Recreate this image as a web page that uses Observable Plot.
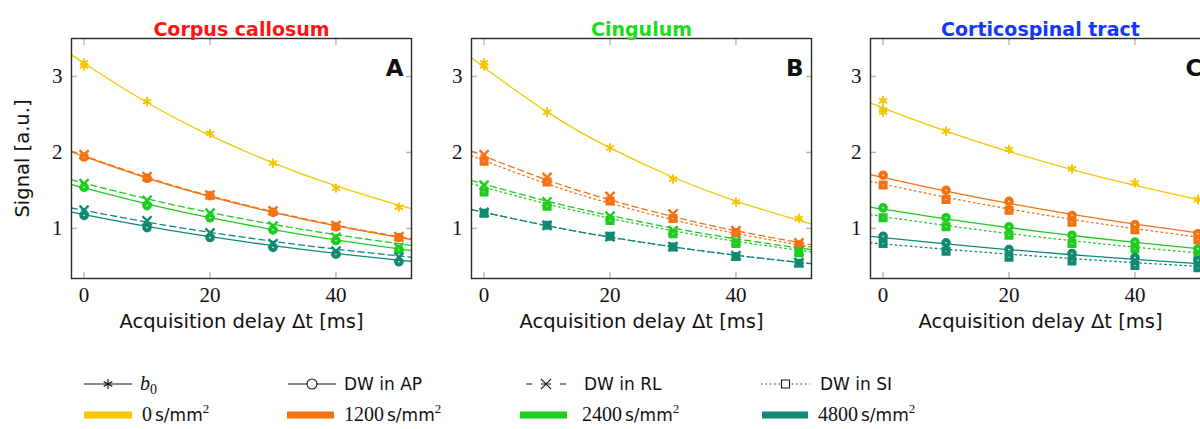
<!DOCTYPE html>
<html><head><meta charset="utf-8">
<script src="https://cdn.jsdelivr.net/npm/d3@7"></script>
<script src="https://cdn.jsdelivr.net/npm/@observablehq/plot@0.6"></script>
<style>
body{margin:0;background:#fff;}
#wrap{position:relative;width:1200px;height:429px;overflow:hidden;background:#fff;}
.panel{position:absolute;top:0;}
#legend{position:absolute;left:0;top:360px;}
</style></head><body><div id="wrap"></div>
<script>
// ---------- data ----------
const times = [0, 10, 20, 30, 40, 50];
const fitTimes = [-2, 0, 10, 20, 30, 40, 50, 52];
const xTicks = [0, 20, 40];
const yTicks = [1, 2, 3];
const bValues = ["0", "1200", "2400", "4800"];
const bColors = ["#f5c600", "#f57214", "#1fcc1f", "#118a74"];
const panelKeys = ["A", "B", "C"];
const panelTitles = ["Corpus callosum", "Cingulum", "Corticospinal tract"];
const titleColors = ["#ff1414", "#14e014", "#1238ff"];

// Panel A (Corpus callosum): b0, AP, RL
const A_b0 = [3.14, 2.67, 2.25, 1.86, 1.53, 1.28];
const A_b0_t0 = [3.18];
const A_AP_1200 = [1.94, 1.66, 1.43, 1.21, 1.02, 0.88];
const A_RL_1200 = [1.97, 1.68, 1.44, 1.23, 1.04, 0.89];
const A_AP_2400 = [1.54, 1.30, 1.14, 0.98, 0.84, 0.72];
const A_RL_2400 = [1.59, 1.37, 1.20, 1.03, 0.88, 0.75];
const A_AP_4800 = [1.17, 1.01, 0.88, 0.75, 0.66, 0.56];
const A_RL_4800 = [1.24, 1.10, 0.94, 0.80, 0.70, 0.62];
const A_fit_b0 = [3.29, 3.175, 2.658, 2.225, 1.862, 1.559, 1.305, 1.26];
const A_fit_AP_1200 = [2.01, 1.948, 1.662, 1.419, 1.211, 1.034, 0.882, 0.855];
const A_fit_RL_1200 = [2.02, 1.958, 1.672, 1.428, 1.22, 1.042, 0.891, 0.865];
const A_fit_AP_2400 = [1.58, 1.534, 1.323, 1.141, 0.984, 0.848, 0.731, 0.71];
const A_fit_RL_2400 = [1.64, 1.595, 1.389, 1.209, 1.053, 0.917, 0.798, 0.776];
const A_fit_AP_4800 = [1.215, 1.181, 1.025, 0.890, 0.773, 0.671, 0.582, 0.566];
const A_fit_RL_4800 = [1.27, 1.237, 1.083, 0.948, 0.830, 0.727, 0.637, 0.62];

// Panel B (Cingulum): b0, RL, SI
const B_b0 = [3.14, 2.53, 2.06, 1.65, 1.35, 1.13];
const B_b0_t0 = [3.18];
const B_RL_1200 = [1.97, 1.67, 1.42, 1.19, 0.97, 0.81];
const B_SI_1200 = [1.885, 1.61, 1.36, 1.13, 0.94, 0.785];
const B_RL_2400 = [1.57, 1.35, 1.16, 0.97, 0.83, 0.70];
const B_SI_2400 = [1.48, 1.29, 1.105, 0.93, 0.80, 0.68];
const B_RL_4800 = [1.21, 1.04, 0.89, 0.76, 0.64, 0.55];
const B_SI_4800 = [1.20, 1.04, 0.895, 0.755, 0.63, 0.54];
const B_fit_b0 = [3.25, 3.118, 2.534, 2.059, 1.673, 1.360, 1.105, 1.06];
const B_fit_RL_1200 = [2.02, 1.951, 1.637, 1.375, 1.154, 0.969, 0.813, 0.785];
const B_fit_SI_1200 = [1.96, 1.892, 1.586, 1.329, 1.114, 0.933, 0.782, 0.755];
const B_fit_RL_2400 = [1.63, 1.582, 1.359, 1.169, 1.004, 0.863, 0.742, 0.72];
const B_fit_SI_2400 = [1.59, 1.542, 1.321, 1.132, 0.969, 0.830, 0.712, 0.69];
const B_fit_RL_4800 = [1.25, 1.211, 1.035, 0.885, 0.756, 0.646, 0.552, 0.535];
const B_fit_SI_4800 = [1.25, 1.211, 1.035, 0.885, 0.756, 0.646, 0.552, 0.535];

// Panel C (Corticospinal tract): b0, AP, SI
const C_b0 = [2.56, 2.28, 2.04, 1.785, 1.60, 1.38];
const C_b0_t0 = [2.68, 2.53];
const C_AP_1200 = [1.70, 1.50, 1.355, 1.17, 1.05, 0.93];
const C_SI_1200 = [1.57, 1.38, 1.24, 1.08, 0.98, 0.85];
const C_AP_2400 = [1.27, 1.14, 1.02, 0.91, 0.82, 0.73];
const C_SI_2400 = [1.14, 1.02, 0.91, 0.80, 0.73, 0.645];
const C_AP_4800 = [0.895, 0.81, 0.72, 0.67, 0.615, 0.58];
const C_SI_4800 = [0.80, 0.70, 0.62, 0.57, 0.51, 0.48];
const C_fit_b0 = [2.65, 2.584, 2.28, 2.011, 1.774, 1.565, 1.38, 1.346];
const C_fit_AP_1200 = [1.71, 1.671, 1.490, 1.329, 1.185, 1.057, 0.942, 0.921];
const C_fit_SI_1200 = [1.62, 1.583, 1.41, 1.256, 1.118, 0.996, 0.887, 0.867];
const C_fit_AP_2400 = [1.28, 1.253, 1.125, 1.010, 0.907, 0.815, 0.732, 0.716];
const C_fit_SI_2400 = [1.18, 1.155, 1.038, 0.932, 0.838, 0.753, 0.676, 0.662];
const C_fit_AP_4800 = [0.895, 0.878, 0.795, 0.7205, 0.653, 0.592, 0.536, 0.526];
const C_fit_SI_4800 = [0.81, 0.795, 0.725, 0.661, 0.6025, 0.549, 0.501, 0.492];

// ---------- assembly ----------
const panelSeries = {
  A: {b0: [A_b0, A_fit_b0, A_b0_t0], dirs: ["AP", "RL"],
      AP: [[A_AP_1200, A_fit_AP_1200], [A_AP_2400, A_fit_AP_2400], [A_AP_4800, A_fit_AP_4800]],
      RL: [[A_RL_1200, A_fit_RL_1200], [A_RL_2400, A_fit_RL_2400], [A_RL_4800, A_fit_RL_4800]]},
  B: {b0: [B_b0, B_fit_b0, B_b0_t0], dirs: ["SI", "RL"],
      RL: [[B_RL_1200, B_fit_RL_1200], [B_RL_2400, B_fit_RL_2400], [B_RL_4800, B_fit_RL_4800]],
      SI: [[B_SI_1200, B_fit_SI_1200], [B_SI_2400, B_fit_SI_2400], [B_SI_4800, B_fit_SI_4800]]},
  C: {b0: [C_b0, C_fit_b0, C_b0_t0], dirs: ["SI", "AP"],
      AP: [[C_AP_1200, C_fit_AP_1200], [C_AP_2400, C_fit_AP_2400], [C_AP_4800, C_fit_AP_4800]],
      SI: [[C_SI_1200, C_fit_SI_1200], [C_SI_2400, C_fit_SI_2400], [C_SI_4800, C_fit_SI_4800]]}
};
const dash = {b0: null, AP: null, RL: "6,4", SI: "1.6,3.4"};
const symbolOf = {b0: "asterisk", AP: "circle", RL: "times", SI: "square"};

const SERIF = "'Liberation Serif', 'DejaVu Serif', serif";
const SANS = "'DejaVu Sans', sans-serif";

const wrap = document.getElementById("wrap");

panelKeys.forEach((key, i) => {
  const ps = panelSeries[key];
  const lineMarks = [], dotMarks = [];
  const fitRows = (vals) => vals.map((v, j) => ({t: fitTimes[j], v}));
  const ptRows = (vals) => vals.map((v, j) => ({t: times[j], v}));
  lineMarks.push(Plot.line(fitRows(ps.b0[1]), {x: "t", y: "v", stroke: bColors[0], strokeWidth: 1.3, curve: "natural", clip: true}));
  const b0pts = ptRows(ps.b0[0]).concat(ps.b0[2].map(v => ({t: times[0], v})));
  dotMarks.push(Plot.dot(b0pts, {x: "t", y: "v", symbol: "asterisk", r: 4.4, stroke: bColors[0], strokeWidth: 1.9}));
  for (const dir of ps.dirs) {
    ps[dir].forEach(([pts, fit], bi) => {
      lineMarks.push(Plot.line(fitRows(fit), {x: "t", y: "v", stroke: bColors[bi + 1], strokeWidth: 1.3,
        strokeDasharray: dash[dir], curve: "natural", clip: true}));
    });
  }
  for (let bi = 0; bi < 3; bi++) {
    for (const dir of ps.dirs) {
      const [pts] = ps[dir][bi];
      const sym = symbolOf[dir];
      dotMarks.push(Plot.dot(ptRows(pts), {x: "t", y: "v", symbol: sym,
        r: sym === "times" ? 4.2 : 2.8,
        stroke: bColors[bi + 1], fill: sym === "times" ? "none" : "white",
        strokeWidth: sym === "times" ? 2.4 : 4}));
    }
  }
  const axisStyle = {stroke: "#b4b4b4", strokeWidth: 1.4, fill: "none", label: null};
  const labelStyle = {fill: "#111", stroke: "none", tickSize: 0, tickPadding: 9, label: null,
    tickFormat: d => String(d), fontFamily: SERIF, fontSize: 21};
  const marks = [
    Plot.axisX(xTicks, {anchor: "bottom", tickSize: -6, ...axisStyle}),
    Plot.axisX(xTicks, {anchor: "top", tickSize: -6, ...axisStyle}),
    Plot.axisY(yTicks, {anchor: "left", tickSize: -6, ...axisStyle}),
    Plot.axisY(yTicks, {anchor: "right", tickSize: -6, ...axisStyle}),
    Plot.axisX(xTicks, {anchor: "bottom", ...labelStyle}),
    Plot.axisY(yTicks, {anchor: "left", ...labelStyle}),
    ...lineMarks,
    ...dotMarks,
    Plot.frame({stroke: "#2a2a2a", strokeWidth: 1.4}),
    Plot.text([panelTitles[i]], {text: d => d, frameAnchor: "top", dy: -16, fill: titleColors[i], fontFamily: SANS, fontWeight: "bold", fontSize: 19}),
    Plot.text([key], {text: d => d, frameAnchor: "top-right", textAnchor: "end", dx: -8, dy: 21, fill: "#111", fontFamily: SANS, fontWeight: "bold", fontSize: 23}),
    Plot.text(["Acquisition delay \u0394t [ms]"], {text: d => d, frameAnchor: "bottom", dy: 49, fill: "#111", fontFamily: SANS, fontSize: 19.5})
  ];
  if (i === 0) marks.push(Plot.text(["Signal [a.u.]"], {text: d => d, frameAnchor: "left", textAnchor: "middle", dx: -49, rotate: -90, fill: "#111", fontFamily: SANS, fontSize: 19.5}));
  const chart = Plot.plot({
    width: 420, height: 345,
    marginLeft: 71, marginRight: 9, marginTop: 38, marginBottom: 67,
    x: {domain: [-2, 52], label: null},
    y: {domain: [0.34, 3.5], label: null},
    style: {background: "transparent", overflow: "visible", maxWidth: "none"},
    marks
  });
  // serif tick numbers (as in the LaTeX original)
  d3.select(chart).selectAll("text")
    .filter(function () { return /^\d+$/.test(this.textContent.trim()); })
    .style("font-family", SERIF).style("font-size", "21px");
  chart.classList.add("panel");
  chart.style.left = (i * 400 - (i === 2 ? 1 : 0)) + "px";
  wrap.appendChild(chart);
});

// ---------- legend ----------
const lg = d3.select(wrap).append("svg").attr("id", "legend").attr("width", 1200).attr("height", 69);
const row1 = 24, row2 = 55;
const styleEntries = [
  {x0: 84, x1: 132, dir: "b0", tx: 140},
  {x0: 288, x1: 336, dir: "AP", tx: 344},
  {x0: 526, x1: 566, dir: "RL", tx: 584},
  {x0: 761, x1: 810, dir: "SI", tx: 820}
];
const dirLabels = {AP: "DW in AP", RL: "DW in RL", SI: "DW in SI"};
styleEntries.forEach(e => {
  lg.append("line").attr("x1", e.x0).attr("x2", e.x1).attr("y1", row1).attr("y2", row1)
    .attr("stroke", "#111").attr("stroke-width", 1.2)
    .attr("stroke-dasharray", e.dir === "RL" ? "6,9,10,9,6" : e.dir === "SI" ? "1.4,3" : null);
  const cx = (e.x0 + e.x1) / 2;
  const symType = {b0: d3.symbolAsterisk, AP: d3.symbolCircle, RL: d3.symbolTimes, SI: d3.symbolSquare}[e.dir];
  const size = e.dir === "AP" ? Math.PI * 25 : e.dir === "SI" ? 64 : 70;
  lg.append("path").attr("d", d3.symbol().type(symType).size(size)())
    .attr("transform", `translate(${cx},${row1})`).attr("fill", e.dir === "b0" || e.dir === "RL" ? "none" : "white")
    .attr("stroke", "#111").attr("stroke-width", 1.1);
  const t = lg.append("text").attr("x", e.tx).attr("y", row1).attr("dy", "0.35em").attr("fill", "#111");
  if (e.dir === "b0") {
    t.append("tspan").attr("font-family", SERIF).attr("font-style", "italic").attr("font-size", 20).text("b");
    t.append("tspan").attr("font-family", SERIF).attr("font-size", 14).attr("dy", 4).text("0");
  } else {
    t.attr("font-family", SANS).attr("font-size", 17).text(dirLabels[e.dir]);
  }
});
const swatchX = [[84, 132, 142], [287, 334, 344], [520, 567, 582], [762, 808, 818]];
bValues.forEach((b, bi) => {
  const [x0, x1, tx] = swatchX[bi];
  lg.append("line").attr("x1", x0).attr("x2", x1).attr("y1", row2).attr("y2", row2)
    .attr("stroke", bColors[bi]).attr("stroke-width", 7);
  const t = lg.append("text").attr("x", tx).attr("y", row2).attr("dy", "0.35em").attr("fill", "#111");
  t.append("tspan").attr("font-family", SERIF).attr("font-size", 20).text(b);
  t.append("tspan").attr("font-family", SANS).attr("font-size", 17).attr("dx", 3).text("s/mm");
  t.append("tspan").attr("font-family", SERIF).attr("font-size", 13).attr("dy", -8).text("2");
});
</script></body></html>
